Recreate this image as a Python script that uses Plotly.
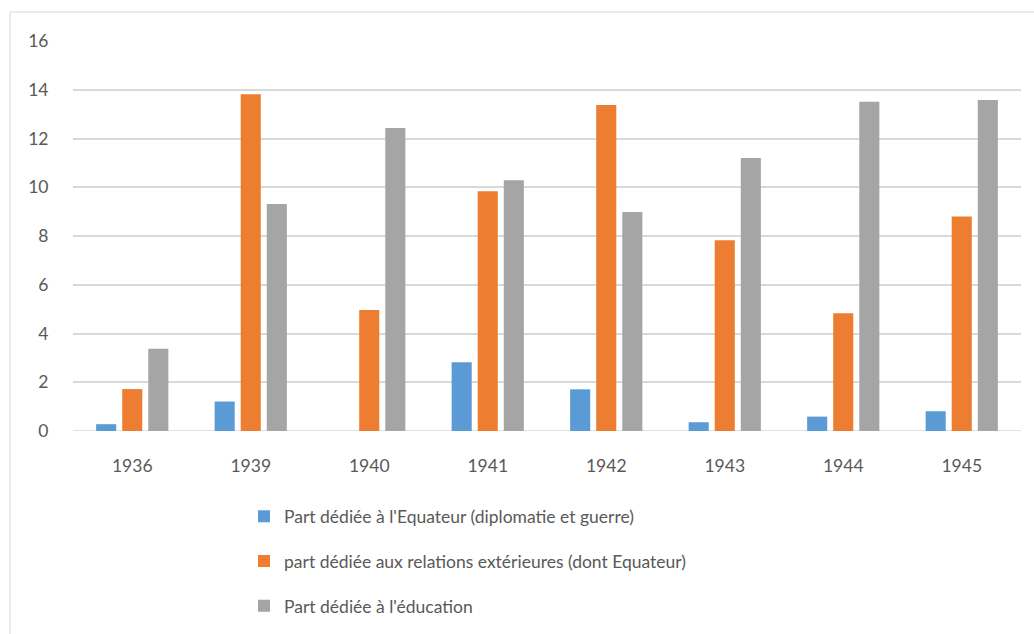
import plotly.graph_objects as go

years = ["1936", "1939", "1940", "1941", "1942", "1943", "1944", "1945"]
equateur = [0.28, 1.21, 0, 2.82, 1.71, 0.36, 0.59, 0.81]
relations_ext = [1.72, 13.82, 4.96, 9.84, 13.37, 7.83, 4.83, 8.80]
education = [3.37, 9.31, 12.43, 10.29, 8.98, 11.20, 13.51, 13.58]

series_names = [
    "Part dédiée à l'Equateur (diplomatie et guerre)",
    "part dédiée aux relations extérieures (dont Equateur)",
    "Part dédiée à l'éducation",
]
series_values = [equateur, relations_ext, education]
series_colors = ["#5B9BD5", "#ED7D31", "#A5A5A5"]

FONT = "Lato, 'Noto Sans', sans-serif"
TEXT = "#595959"
GRID = "#D9D9D9"
FS = 17.5

W, H = 1034, 634
L, R, T, B = 73, 13, 41, 203
pw = W - L - R
ph = H - T - B

fig = go.Figure()
for i, (name, vals, col) in enumerate(zip(series_names, series_values, series_colors)):
    fig.add_trace(go.Bar(
        x=years, y=vals, name=name,
        marker=dict(color=col, line=dict(width=0)),
        legendgroup=f"g{i}",
    ))

fig.update_layout(
    width=W, height=H,
    margin=dict(l=L, r=R, t=T, b=B, pad=0, autoexpand=False),
    paper_bgcolor="white", plot_bgcolor="white",
    font=dict(family=FONT, size=FS, color=TEXT),
    barmode="group", bargap=0.34, bargroupgap=0.23,
    showlegend=True,
    legend=dict(
        orientation="v", x=(244 - L) / pw, xanchor="left",
        y=-0.173, yanchor="top",
        font=dict(family=FONT, size=FS, color=TEXT),
        tracegroupgap=19, itemwidth=30,
        bgcolor="rgba(0,0,0,0)",
    ),
    xaxis=dict(
        type="category", showgrid=False, zeroline=False, showline=False,
        ticks="outside", ticklen=19, tickcolor="rgba(0,0,0,0)",
        tickfont=dict(family=FONT, size=FS, color=TEXT),
    ),
    yaxis=dict(
        range=[0, 16], dtick=2, showgrid=True, gridcolor=GRID, gridwidth=1.5,
        zeroline=False, showline=False,
        ticks="outside", ticklen=20, tickcolor="rgba(0,0,0,0)",
        tickfont=dict(family=FONT, size=FS, color=TEXT),
    ),
)

# Baseline at zero
fig.add_shape(type="line", xref="paper", yref="y", x0=0, x1=1, y0=0, y1=0,
              line=dict(color=GRID, width=1.5), layer="below")

# Chart area border
fig.add_shape(type="rect", xref="paper", yref="paper",
              x0=(10 - L) / pw, x1=(W + 5 - L) / pw,
              y0=-(H + 5 - (H - B)) / ph, y1=1 + (T - 12) / ph,
              line=dict(color=GRID, width=1), fillcolor="rgba(0,0,0,0)", layer="below")

fig.write_html("out.html")
